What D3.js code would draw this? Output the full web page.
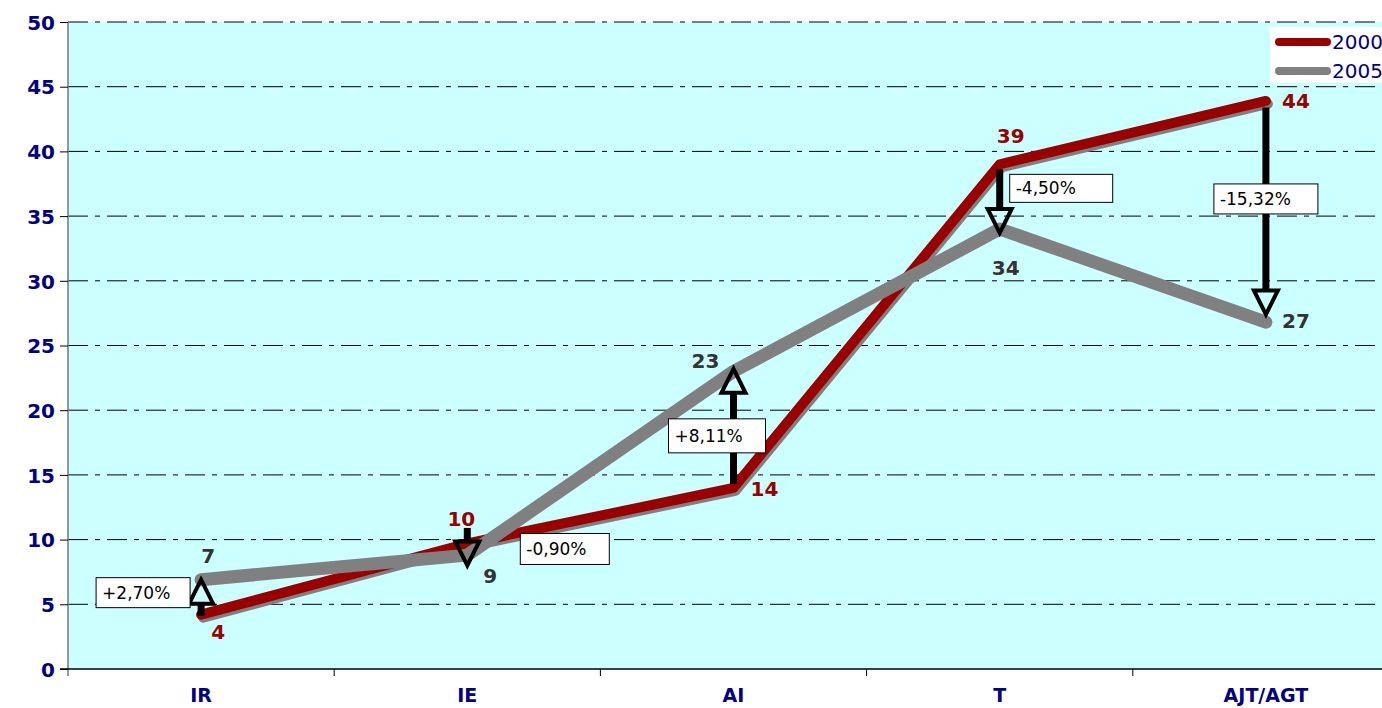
<!doctype html>
<html>
<head>
<meta charset="UTF-8">
<title>2000 / 2005</title>
<script src="https://d3js.org/d3.v7.min.js"></script>
<style>
  body { margin: 0; background: #fff; }
  svg text { font-family: "DejaVu Sans", Verdana, sans-serif; }
</style>
</head>
<body>
<svg id="chart" width="1382" height="708"></svg>
<script>
// data
var categories = ["IR", "IE", "AI", "T", "AJT/AGT"];
var values2000 = [4.2, 9.7, 14.0, 39.0, 43.9];
var values2005 = [6.9, 8.8, 23.0, 34.0, 26.8];
var labels2000 = ["4", "10", "14", "39", "44"];
var labels2005 = ["7", "9", "23", "34", "27"];
var changes = ["+2,70%", "-0,90%", "+8,11%", "-4,50%", "-15,32%"];
// arrow ends, in data units (hand drawn in the original)
var arrowFrom = [4.1, 10.9, 14.3, 38.6, 43.4];
var arrowTo = [6.9, 8.0, 23.2, 33.7, 27.4];
var yTicks = [0, 5, 10, 15, 20, 25, 30, 35, 40, 45, 50];

// layout of the labels (pixel offsets from the point)
var boxPos = [[-105, -37, 94, 30], [53, -10, 89, 31], [-65, -69, 97, 34], [10, 10, 103, 28], [-52, 83, 104, 30]];
var lab2000Pos = [[17, 17], [-6, -25], [31, 1], [11, -29], [30, 0]];
var lab2005Pos = [[7, -24], [23, 21], [-28, -11], [6, 39], [30, -1]];

var svg = d3.select("#chart");
var mLeft = 68, mTop = 22, mBottom = 669, mRight = 1399;

var x = d3.scaleBand().domain(categories).range([mLeft, mRight]);
var y = d3.scaleLinear().domain([0, 50]).range([mBottom, mTop]);
var cx = function(c) { return x(c) + x.bandwidth() / 2; };

// plot area
svg.append("rect").attr("x", mLeft).attr("y", mTop)
  .attr("width", mRight - mLeft).attr("height", mBottom - mTop)
  .attr("fill", "#ccffff");

// grid
svg.append("g").selectAll("line").data(yTicks.slice(1)).enter().append("line")
  .attr("x1", mLeft).attr("x2", mRight)
  .attr("y1", function(d) { return y(d); }).attr("y2", function(d) { return y(d); })
  .attr("stroke", "#000").attr("stroke-width", 1)
  .attr("stroke-dasharray", "20,7,5,7");

// y axis
var yAxis = d3.axisLeft(y).tickValues(yTicks).tickSize(8).tickPadding(5);
var gy = svg.append("g").attr("transform", "translate(" + mLeft + ",0)").call(yAxis);
gy.select(".domain").attr("stroke", "#777").attr("stroke-width", 1.5).attr("d", "M0," + mTop + "V" + (mBottom + 7));
gy.selectAll(".tick line").attr("stroke", "#000");
gy.selectAll(".tick text").attr("fill", "#000080").attr("font-size", 20)
  .attr("font-weight", "bold").attr("font-family", "DejaVu Sans, Verdana, sans-serif")
  .attr("dy", "0.36em");

// x axis
var xAxis = d3.axisBottom(x).tickSize(0).tickPadding(20);
var gx = svg.append("g").attr("transform", "translate(0," + mBottom + ")").call(xAxis);
gx.select(".domain").attr("stroke", "#000").attr("stroke-width", 1.5).attr("d", "M" + (mLeft - 8) + ",0H" + mRight);
gx.selectAll(".tick text").attr("fill", "#000080").attr("font-size", 19)
  .attr("font-weight", "bold").attr("font-family", "DejaVu Sans, Verdana, sans-serif");
svg.append("g").selectAll("line").data(categories.slice(1)).enter().append("line")
  .attr("x1", function(d) { return x(d); }).attr("x2", function(d) { return x(d); })
  .attr("y1", mBottom).attr("y2", mBottom + 7)
  .attr("stroke", "#000").attr("stroke-width", 1);

// lines
var line = d3.line().x(function(d, i) { return cx(categories[i]); }).y(function(d) { return y(d); });

svg.append("path").datum(values2000).attr("d", line)
  .attr("transform", "translate(2,3)")
  .attr("fill", "none").attr("stroke", "#7f7f7f").attr("stroke-width", 10)
  .attr("stroke-linejoin", "round").attr("stroke-linecap", "round");
svg.append("path").datum(values2000).attr("d", line)
  .attr("fill", "none").attr("stroke", "#990000").attr("stroke-width", 10)
  .attr("stroke-linejoin", "round").attr("stroke-linecap", "round");
svg.append("path").datum(values2005).attr("d", line)
  .attr("fill", "none").attr("stroke", "#808080").attr("stroke-width", 13)
  .attr("stroke-linejoin", "round").attr("stroke-linecap", "round");

// arrows
var headH = 24, headW = 12;
var arrows = svg.append("g");
categories.forEach(function(c, i) {
  var ax = cx(c), y0 = y(arrowFrom[i]), y1 = y(arrowTo[i]);
  var dir = y1 < y0 ? 1 : -1; // 1 = pointing up
  var base = y1 + dir * headH;
  arrows.append("line").attr("x1", ax).attr("x2", ax).attr("y1", y0).attr("y2", base)
    .attr("stroke", "#000").attr("stroke-width", 7);
  arrows.append("path")
    .attr("d", "M" + ax + "," + y1 + "L" + (ax - headW) + "," + base + "L" + (ax + headW) + "," + base + "Z")
    .attr("fill", "none").attr("stroke", "#000").attr("stroke-width", 4)
    .attr("stroke-linejoin", "miter");
});

// change boxes
var boxes = svg.append("g");
categories.forEach(function(c, i) {
  var ax = cx(c), ay = y(values2000[i]);
  var b = boxPos[i];
  var bx = ax + b[0], by = ay + b[1];
  boxes.append("rect").attr("x", bx).attr("y", by).attr("width", b[2]).attr("height", b[3])
    .attr("fill", "#fff").attr("stroke", "#000").attr("stroke-width", 1);
  boxes.append("text").attr("x", bx + 6).attr("y", by + b[3] / 2 + 6)
    .attr("font-size", 17).attr("fill", "#000").text(changes[i]);
});

// value labels
svg.append("g").selectAll("text").data(values2000).enter().append("text")
  .attr("x", function(d, i) { return cx(categories[i]) + lab2000Pos[i][0]; })
  .attr("y", function(d, i) { return y(d) + lab2000Pos[i][1]; })
  .attr("text-anchor", "middle").attr("dy", "0.36em")
  .attr("font-size", 20).attr("font-weight", "bold").attr("fill", "#990000")
  .text(function(d, i) { return labels2000[i]; });
svg.append("g").selectAll("text").data(values2005).enter().append("text")
  .attr("x", function(d, i) { return cx(categories[i]) + lab2005Pos[i][0]; })
  .attr("y", function(d, i) { return y(d) + lab2005Pos[i][1]; })
  .attr("text-anchor", "middle").attr("dy", "0.36em")
  .attr("font-size", 20).attr("font-weight", "bold").attr("fill", "#333333")
  .text(function(d, i) { return labels2005[i]; });

// legend
var legend = svg.append("g");
legend.append("rect").attr("x", 1270).attr("y", 27).attr("width", 130).attr("height", 56).attr("fill", "#fff");
[["2000", "#990000"], ["2005", "#808080"]].forEach(function(s, i) {
  var ly = 42 + i * 29;
  legend.append("line").attr("x1", 1279).attr("x2", 1327).attr("y1", ly).attr("y2", ly)
    .attr("stroke", s[1]).attr("stroke-width", 8).attr("stroke-linecap", "round");
  legend.append("text").attr("x", 1332).attr("y", ly + 7).attr("font-size", 20)
    .attr("fill", "#000080").text(s[0]);
});
</script>
</body>
</html>
